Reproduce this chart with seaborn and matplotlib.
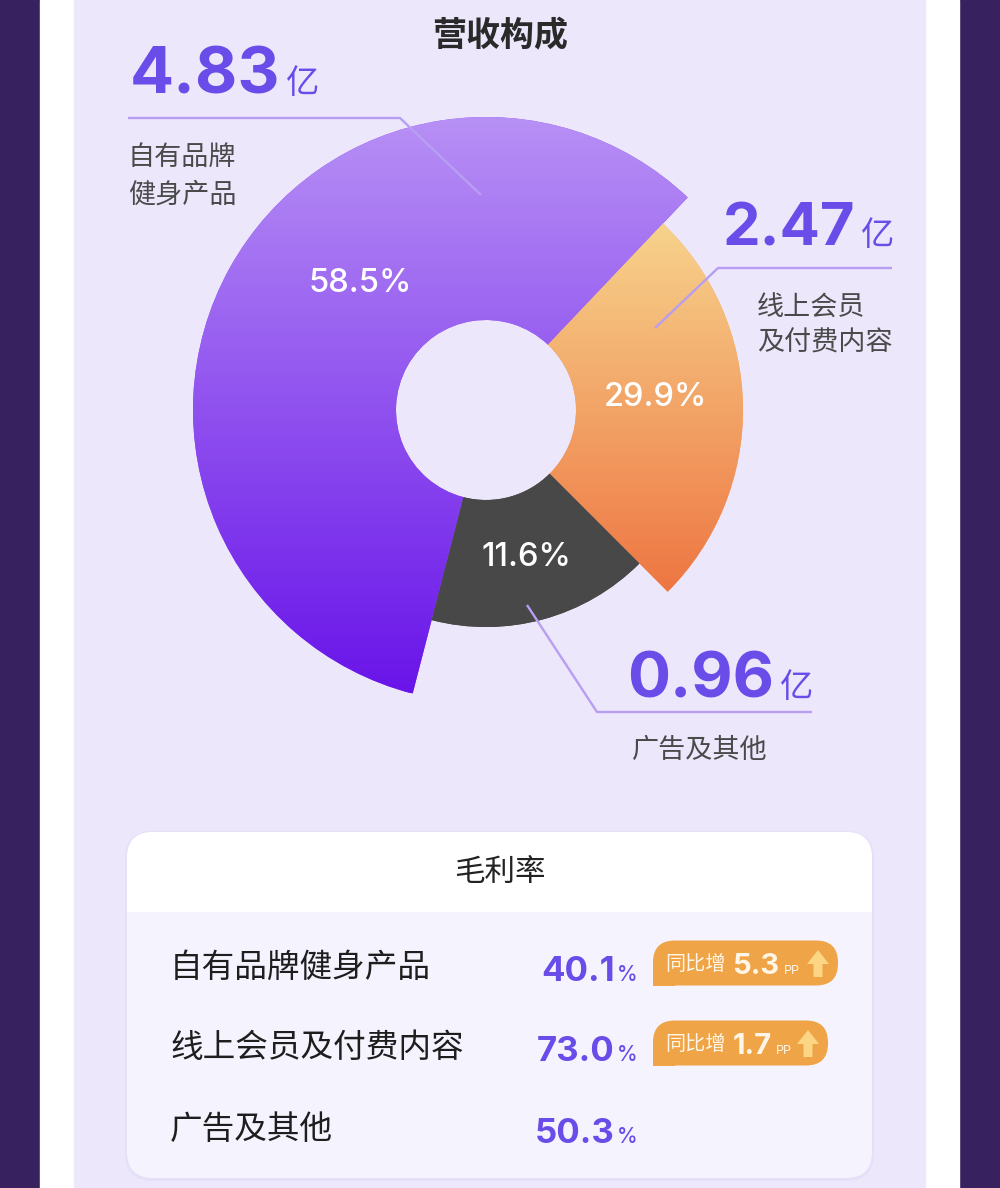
import numpy as np
import matplotlib
matplotlib.use("Agg")
import matplotlib.pyplot as plt
import seaborn as sns
from matplotlib.patches import Rectangle, FancyBboxPatch, Polygon
from matplotlib.colors import to_rgba

# ---------------- data ----------------
categories = ["自有品牌健身产品", "线上会员及付费内容", "广告及其他"]
label_lines = [["自有品牌", "健身产品"], ["线上会员", "及付费内容"], ["广告及其他"]]
revenue_yi = [4.83, 2.47, 0.96]          # 亿
share_pct = [58.5, 29.9, 11.6]
gross_margin = [40.1, 73.0, 50.3]        # %
margin_yoy_pp = [5.3, 1.7, None]         # 同比增 pp
title = "营收构成"
card_title = "毛利率"

# ---------------- style / layout ----------------
sns.set_theme(style="white")
plt.rcParams["font.family"] = ["Noto Sans CJK SC", "DejaVu Sans"]
NUM = ["Inter", "Noto Sans CJK SC", "DejaVu Sans"]
CJK = ["Noto Sans CJK SC", "DejaVu Sans"]

W, H = 1000, 1188
fig = plt.figure(figsize=(W / 100, H / 100), dpi=100)
fig.patch.set_facecolor("#37215f")

bg = fig.add_axes([0, 0, 1, 1], zorder=0)
bg.set_xlim(0, W); bg.set_ylim(H, 0); bg.axis("off")
bg.add_patch(Rectangle((40, 0), 919, H, color="white"))
bg.add_patch(Rectangle((74, 0), 851, H, color="#ECE7FB"))

# rose-like donut geometry (pixels)
CX, CY, RMAX = 486, 410, 300
R_IN = 90
R_OUT = [293, 257, 217]
SPAN_DEG = [209.0, 91.5, 59.5]
START_DEG = 46.5
ORDER_CCW = [0, 2, 1]
GRAD = [("#B790F5", "#6914E9", 117, 693),
        ("#F7D38C", "#EE7542", 223, 595),
        ("#484848", "#484848", 380, 630)]

pax = fig.add_axes([(CX - RMAX) / W, (H - CY - RMAX) / H, 2 * RMAX / W, 2 * RMAX / H],
                   projection="polar", zorder=1)
pax.set_ylim(0, RMAX)
pax.set_axis_off()
pax.patch.set_alpha(0)

theta = {}
acc = np.deg2rad(START_DEG)
for i in ORDER_CCW:
    w = np.deg2rad(SPAN_DEG[i])
    theta[i] = (acc + w / 2, w)
    acc += w

bars = []
for i in range(len(categories)):
    th, w = theta[i]
    c0, c1, _, _ = GRAD[i]
    mid = tuple((np.array(to_rgba(c0)) + np.array(to_rgba(c1))) / 2)
    b = pax.bar(th, R_OUT[i] - R_IN, width=w, bottom=R_IN, color=mid, linewidth=0)
    bars.append(b[0])

ov = fig.add_axes([0, 0, 1, 1], zorder=2)
ov.set_autoscale_on(False)
ov.set_xlim(0, W); ov.set_ylim(H, 0); ov.axis("off")
ov.patch.set_alpha(0)

# gradient fills clipped to the slices
for i in range(len(categories)):
    c0, c1, y0, y1 = GRAD[i]
    t = np.linspace(0, 1, 256)[:, None]
    a0, a1 = np.array(to_rgba(c0)), np.array(to_rgba(c1))
    img = (a0[None, :] * (1 - t) + a1[None, :] * t)[:, None, :]
    im = ov.imshow(img, extent=(CX - RMAX, CX + RMAX, y1, y0), origin="upper",
                   aspect="auto", interpolation="bilinear", zorder=1)
    im.set_clip_path(bars[i].get_path(), bars[i].get_transform())

# title
ov.text(500, 36, title, ha="center", va="center", fontsize=24.5, fontweight="bold",
        color="#2a2a2a", family=CJK, zorder=5)

# percent labels inside slices
pct_pos = [(360, 283), (655, 398), (526, 557)]
for i, p in enumerate(share_pct):
    ov.text(*pct_pos[i], f"{p:.1f}%", ha="center", va="center", fontsize=23.5,
            color="white", family=NUM, fontweight="medium", zorder=5)

# leader lines
LINE_C = "#B89EF2"
leaders = [([128, 400, 481], [118, 118, 195]),
           ([892, 718, 655], [268, 268, 328]),
           ([527, 597, 812], [605, 712, 712])]
for xs, ys in leaders:
    ov.plot(xs, ys, color=LINE_C, lw=1.7, solid_capstyle="butt", zorder=4)

# value + category annotations
NUM_C = "#6A4CE8"
val_pos = [(130, 93), (723, 245), (627, 697)]
val_size = [47, 43, 46]
lab_pos = [(128, [157, 195]), (757, [308, 343]), (632, [750])]
for i, v in enumerate(revenue_yi):
    x, yb = val_pos[i]
    t = ov.text(x, yb, f"{v:.2f}", ha="left", va="baseline", fontsize=val_size[i],
                fontweight="bold", color=NUM_C, family=NUM, zorder=5)
    ov.annotate("亿", xy=(1, yb), xycoords=(t, "data"), xytext=(4, 0),
                textcoords="offset points", ha="left", va="baseline",
                fontsize=24, color=NUM_C, family=CJK, fontweight="medium", zorder=5)
    lx, lys = lab_pos[i]
    for line, ly in zip(label_lines[i], lys):
        ov.text(lx, ly, line, ha="left", va="center", fontsize=19.5,
                color="#4a4a4a", family=CJK, zorder=5)

# ---------------- gross margin card ----------------
CARD_X, CARD_Y, CARD_W, CARD_H = 127, 832, 745, 346
BODY_C = "#F5F3FE"
ov.add_patch(FancyBboxPatch((CARD_X - 2, CARD_Y - 1), CARD_W + 4, CARD_H + 4,
                            boxstyle="round,pad=0,rounding_size=28",
                            fc="#E2DBF7", ec="none", alpha=0.6, zorder=1))
ov.add_patch(FancyBboxPatch((CARD_X, CARD_Y), CARD_W, CARD_H,
                            boxstyle="round,pad=0,rounding_size=26",
                            fc=BODY_C, ec="none", zorder=2))
ov.add_patch(FancyBboxPatch((CARD_X, CARD_Y), CARD_W, 110,
                            boxstyle="round,pad=0,rounding_size=26",
                            fc="white", ec="none", zorder=2.1))
ov.add_patch(Rectangle((CARD_X, 912), CARD_W, 40, fc=BODY_C, ec="none", zorder=2.2))
ov.text(500, 873, card_title, ha="center", va="center", fontsize=22,
        color="#222222", family=CJK, fontweight="medium", zorder=5)

row_y = [968, 1048, 1130]
BADGE_C = "#EFA447"
badge_w = [185, 175]
for i, name in enumerate(categories):
    y = row_y[i]
    ov.text(170, y, name, ha="left", va="center", fontsize=23.5, color="#1e1e1e",
            family=CJK, fontweight="medium", zorder=5)
    t = ov.text(615, y + 13, f"{gross_margin[i]:.1f}", ha="right", va="baseline",
                fontsize=25, fontweight="bold", color=NUM_C, family=NUM, zorder=5)
    ov.annotate("%", xy=(1, y + 13), xycoords=(t, "data"), xytext=(1.5, 0),
                textcoords="offset points", ha="left", va="baseline", fontsize=15,
                fontweight="medium", color=NUM_C, family=NUM, zorder=5)
    pp = margin_yoy_pp[i]
    if pp is None:
        continue
    yc = y - 5
    bx, bw, bh = 653, badge_w[i], 45
    ov.add_patch(FancyBboxPatch((bx, yc - bh / 2), bw, bh,
                                boxstyle="round,pad=0,rounding_size=22",
                                fc=BADGE_C, ec="none", zorder=3))
    ov.add_patch(Rectangle((bx, yc), 22, bh / 2, fc=BADGE_C, ec="none", zorder=3))
    tb = ov.text(bx + 12, yc + 1, "同比增", ha="left", va="center", fontsize=14.5,
                 color="#FFF6E8", family=CJK, zorder=5)
    tn = ov.annotate(f"{pp:.1f}", xy=(1, yc + 11), xycoords=(tb, "data"),
                     xytext=(5, 0), textcoords="offset points", ha="left",
                     va="baseline", fontsize=21, fontweight="bold", color="#FFF6E8",
                     family=NUM, zorder=5)
    ov.annotate("PP", xy=(1, yc + 11), xycoords=(tn, "data"), xytext=(3, 0),
                textcoords="offset points", ha="left", va="baseline", fontsize=9,
                color="#FFF6E8", family=NUM, zorder=5)
    axc = bx + bw - 20
    arrow = [(axc - 11, yc + 1), (axc, yc - 13), (axc + 11, yc + 1), (axc + 4.5, yc + 1),
             (axc + 4.5, yc + 14), (axc - 4.5, yc + 14), (axc - 4.5, yc + 1)]
    ov.add_patch(Polygon(arrow, closed=True, fc="#FCD585", ec="none", zorder=4))

ov.set_xlim(0, W); ov.set_ylim(H, 0)
fig.savefig("out.png", dpi=100, facecolor=fig.get_facecolor())
